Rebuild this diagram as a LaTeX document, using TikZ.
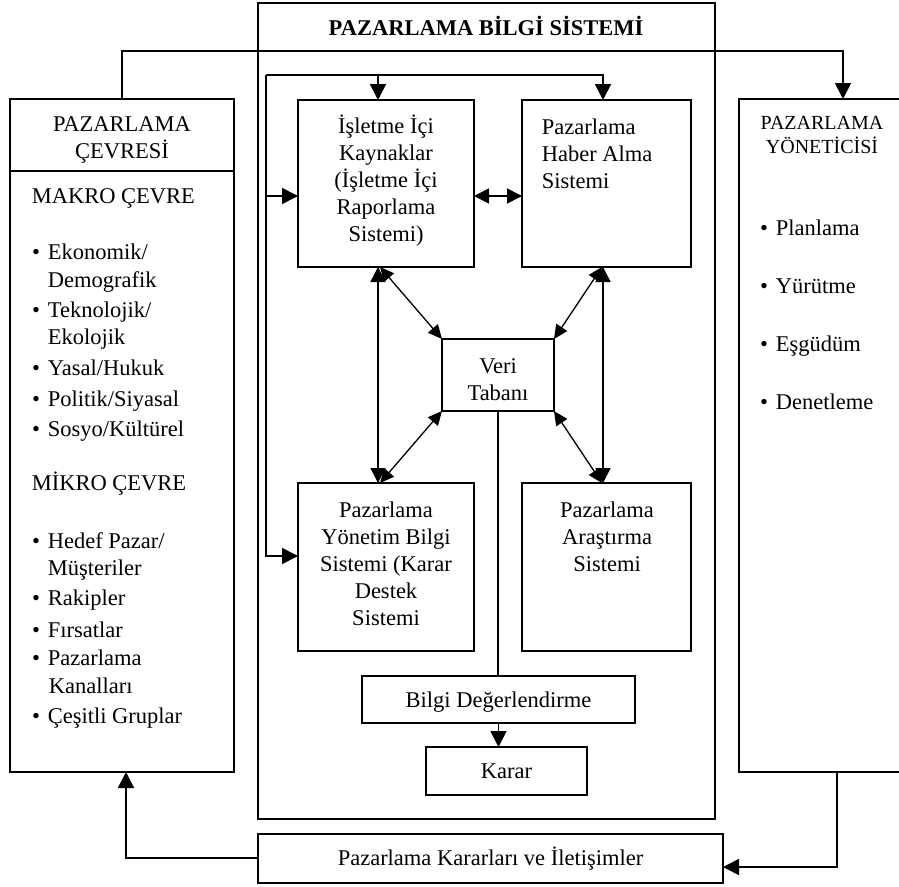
\documentclass[tikz,border=0pt]{standalone}
\usepackage{fontspec}
\setmainfont{Liberation Serif}
\usetikzlibrary{arrows.meta}
\begin{document}
\begin{tikzpicture}[x=1pt,y=-1pt,line width=1.7pt,
  box/.style={draw, inner sep=0pt, outer sep=0pt, line width=1.7pt},
  txt/.style={inner sep=0pt, font=\fontsize{22.5}{27}\selectfont},
  hdr/.style={inner sep=0pt, font=\fontsize{20}{24}\selectfont},
  ttl/.style={inner sep=0pt, font=\fontsize{22.5}{27}\selectfont\bfseries},
  arr/.style={-{Triangle[length=16pt,width=16pt]}},
  dbl/.style={{Triangle[length=15pt,width=15pt]}-{Triangle[length=15pt,width=15pt]}},
  ddg/.style={line width=1.3pt,{Triangle[length=14pt,width=13pt]}-{Triangle[length=14pt,width=13pt]}}]
\useasboundingbox (0,0) rectangle (899,886);
\clip (0,0) rectangle (899,886);
\fill[white] (0,0) rectangle (899,886);
% boxes
\node[box, minimum width=224pt, minimum height=673pt] (L) at (122,435.5) {};
\draw (10,171) -- (234,171);
\node[box, minimum width=457pt, minimum height=816pt] (C) at (486.5,411) {};
\node[box, minimum width=200pt, minimum height=673pt] (R) at (839,435.5) {};
\node[box, minimum width=465pt, minimum height=49pt] (B) at (490.5,858.5) {};
\node[box, minimum width=176pt, minimum height=167pt] (I) at (386,183.5) {};
\node[box, minimum width=169pt, minimum height=167pt] (H) at (606.5,183.5) {};
\node[box, minimum width=112pt, minimum height=72pt] (V) at (498,375) {};
\node[box, minimum width=176pt, minimum height=168pt] (Y) at (386,567) {};
\node[box, minimum width=169pt, minimum height=168pt] (A) at (606.5,567) {};
\node[box, minimum width=273pt, minimum height=47pt] (D) at (498.5,699.5) {};
\node[box, minimum width=161pt, minimum height=48pt] (K) at (506.5,771) {};
% title
\node[ttl, anchor=base] (title) at (486,35) {PAZARLAMA BİLGİ SİSTEMİ};
% outer connectors
\coordinate (T2) at (843,51);
\draw[arr] (L.north) |- (T2) -- (T2 |- R.north);
\coordinate (Q) at (837,867);
\draw[arr] (Q |- R.south) -- (Q) -- (B.east |- Q);
\coordinate (P) at (126,858);
\draw[arr] (B.west |- P) -- (P) -- (P |- L.south);
% inner loop
\coordinate (J1) at (266,75);
\coordinate (J2) at (603,75);
\coordinate (J3) at (378,75);
\coordinate (ya) at (266,556);
\coordinate (ia) at (266,196);
\draw[arr] (J1) -- (ya) -- (ya -| Y.west);
\draw[arr] (J1) -- (J2) -- (J2 |- H.north);
\draw[arr] (J3) -- (J3 |- I.north);
\draw[arr] (ia) -- (ia -| I.west);
\draw[dbl] (ia -| I.east) -- (ia -| H.west);
% verticals and diagonals
\coordinate (vx1) at (378,0);
\coordinate (vx2) at (603,0);
\draw[dbl] (vx1 |- I.south) -- (vx1 |- Y.north);
\draw[dbl] (vx2 |- H.south) -- (vx2 |- A.north);
\draw[ddg] ([xshift=2pt]vx1 |- I.south) -- (V.north west);
\draw[ddg] (V.south west) -- ([xshift=2pt]vx1 |- Y.north);
\draw[ddg] ([xshift=-1pt]vx2 |- H.south) -- (V.north east);
\draw[ddg] (V.south east) -- ([xshift=-1pt]vx2 |- A.north);
\draw (V.south) -- (V.south |- D.north);
\draw[arr] (D.south) -- (D.south |- K.north);
% box texts
\node[txt, align=center] (tI) at (386,181) {İşletme İçi\\Kaynaklar\\(İşletme İçi\\Raporlama\\Sistemi)};
\node[txt, align=left, anchor=west] (tH) at (541,153.5) {Pazarlama\\Haber Alma\\Sistemi};
\node[txt, align=center] (tV) at (498,380) {Veri\\Tabanı};
\node[txt, align=center] (tY) at (386,564) {Pazarlama\\Yönetim Bilgi\\Sistemi (Karar\\Destek\\Sistemi};
\node[txt, align=center] (tA) at (607,537) {Pazarlama\\Araştırma\\Sistemi};
\node[txt, anchor=base] (tD) at (498.5,707) {Bilgi Değerlendirme};
\node[txt, anchor=base] (tK) at (506.5,778) {Karar};
\node[txt, anchor=base] (tB) at (490.5,865) {Pazarlama Kararları ve İletişimler};
% left box texts
\node[txt, anchor=base] (lh1) at (122,131) {PAZARLAMA};
\node[txt, anchor=base] (lh2) at (122,158) {ÇEVRESİ};
\node[txt, anchor=base west] (mak) at (31,203) {MAKRO ÇEVRE};
\node[txt, anchor=base] (b1) at (36,259) {\textbullet};
\node[txt, anchor=base west] (l1) at (47,259) {Ekonomik/};
\node[txt, anchor=base west] (l1b) at (47,287) {Demografik};
\node[txt, anchor=base] (b2) at (36,317) {\textbullet};
\node[txt, anchor=base west] (l2) at (47,317) {Teknolojik/};
\node[txt, anchor=base west] (l2b) at (47,344) {Ekolojik};
\node[txt, anchor=base] (b3) at (36,375) {\textbullet};
\node[txt, anchor=base west] (l3) at (47,375) {Yasal/Hukuk};
\node[txt, anchor=base] (b4) at (36,406) {\textbullet};
\node[txt, anchor=base west] (l4) at (47,406) {Politik/Siyasal};
\node[txt, anchor=base] (b5) at (36,436) {\textbullet};
\node[txt, anchor=base west] (l5) at (47,436) {Sosyo/Kültürel};
\node[txt, anchor=base west] (mik) at (31,490) {MİKRO ÇEVRE};
\node[txt, anchor=base] (b6) at (36,548) {\textbullet};
\node[txt, anchor=base west] (l6) at (47,548) {Hedef Pazar/};
\node[txt, anchor=base west] (l6b) at (47,575) {Müşteriler};
\node[txt, anchor=base] (b7) at (36,605) {\textbullet};
\node[txt, anchor=base west] (l7) at (47,605) {Rakipler};
\node[txt, anchor=base] (b8) at (36,637) {\textbullet};
\node[txt, anchor=base west] (l8) at (47,637) {Fırsatlar};
\node[txt, anchor=base] (b9) at (36,665) {\textbullet};
\node[txt, anchor=base west] (l9) at (47,665) {Pazarlama};
\node[txt, anchor=base west] (l9b) at (48,693) {Kanalları};
\node[txt, anchor=base] (b10) at (36,723) {\textbullet};
\node[txt, anchor=base west] (l10) at (47,723) {Çeşitli Gruplar};
% right box texts
\node[hdr, anchor=base] (rh1) at (822,129) {PAZARLAMA};
\node[hdr, anchor=base] (rh2) at (822,153) {YÖNETİCİSİ};
\node[txt, anchor=base] (rb1) at (764,235) {\textbullet};
\node[txt, anchor=base west] (r1) at (775,235) {Planlama};
\node[txt, anchor=base] (rb2) at (764,293) {\textbullet};
\node[txt, anchor=base west] (r2) at (775,293) {Yürütme};
\node[txt, anchor=base] (rb3) at (764,351) {\textbullet};
\node[txt, anchor=base west] (r3) at (775,351) {Eşgüdüm};
\node[txt, anchor=base] (rb4) at (764,409) {\textbullet};
\node[txt, anchor=base west] (r4) at (775,409) {Denetleme};
\end{tikzpicture}
\end{document}
